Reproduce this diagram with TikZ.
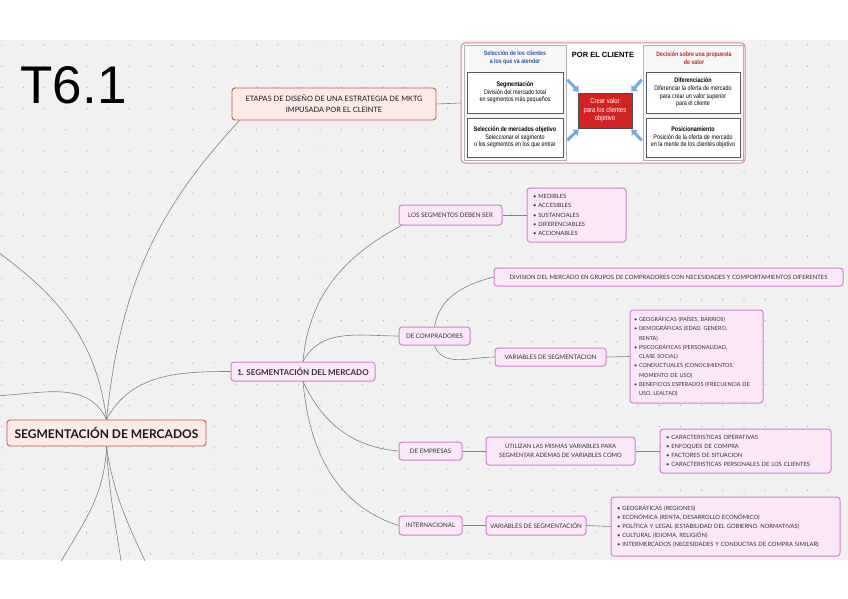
\documentclass[tikz,border=0pt]{standalone}
\usepackage{fontspec}
\setmainfont{Lato}
\newfontfamily\arialfont{Liberation Sans}
\newfontfamily\narrowfont[FakeStretch=0.82]{Liberation Sans}
\usetikzlibrary{arrows.meta}

\definecolor{canvas}{RGB}{241,241,241}
\definecolor{dotgray}{RGB}{178,178,178}
\definecolor{linkgray}{RGB}{130,130,130}
\definecolor{redline}{RGB}{205,85,75}
\definecolor{redfill}{RGB}{252,234,231}
\definecolor{pinkline}{RGB}{215,125,210}
\definecolor{pinkfill}{RGB}{250,232,248}
\definecolor{headblue}{RGB}{45,85,165}
\definecolor{headred}{RGB}{195,35,35}
\definecolor{valuered}{RGB}{210,35,35}
\definecolor{arrowblue}{RGB}{115,170,225}

\begin{document}
\begin{tikzpicture}[
      x=1pt, y=-1pt,
      redbox/.style={rectangle, rounded corners=3pt, draw=redline, line width=0.9pt,
                     fill=redfill, inner sep=2pt, align=center, text=black!90},
      pinkbox/.style={rectangle, rounded corners=3pt, draw=pinkline, line width=1pt,
                      fill=pinkfill, inner sep=2pt, align=center, text=black!80,
                      font=\fontsize{6.2}{8}\selectfont},
      listbox/.style={pinkbox, align=left, inner xsep=6pt,
                      font=\fontsize{5.8}{9.3}\selectfont},
      link/.style={draw=linkgray, line width=0.6pt},
      imgbox/.style={rectangle, draw=black!65, line width=0.7pt, fill=white,
                     inner sep=1pt, align=center, font=\narrowfont\fontsize{6.6}{7.6}\selectfont},
      colpanel/.style={rectangle, draw=black!30, line width=0.5pt, fill=black!3},
      bluearrow/.style={-{Triangle[length=5pt,width=8pt]}, line width=3pt, arrowblue}
    ]
    % canvas
    \useasboundingbox (0,0) rectangle (848,599);
    \fill[white] (0,0) rectangle (848,599);
    \fill[canvas] (0,40) rectangle (848,560);
    \foreach \gx in {0,...,39}
      \foreach \gy in {0,...,24}
        \fill[dotgray] (2+21.2*\gx,45+21.2*\gy) circle (0.7pt);

    % title
    \node[inner sep=0pt, font=\arialfont\fontsize{53}{53}\selectfont] (title) at (73.5,85.5) {T6.1};

    % main nodes
    \node[redbox, minimum width=199pt, minimum height=26pt,
          font=\fontsize{12}{14}\selectfont\bfseries] (main) at (106.5,433) {SEGMENTACIÓN DE MERCADOS};
    \node[redbox, minimum width=204pt, minimum height=32pt,
          font=\fontsize{7.4}{11}\selectfont] (etapas) at (334,104)
          {ETAPAS DE DISEÑO DE UNA ESTRATEGIA DE MKTG\\IMPUSADA POR EL CLEINTE};
    \node[pinkbox, minimum width=144pt, minimum height=19pt,
          font=\fontsize{8}{10}\selectfont\bfseries] (seg1) at (303,371.5) {1. SEGMENTACIÓN DEL MERCADO};

    % segmentos
    \node[pinkbox, minimum width=103pt, minimum height=20pt] (debenser) at (450.5,215) {LOS SEGMENTOS DEBEN SER};
    \node[listbox, text width=87pt, minimum height=54pt] (cualidades) at (576.5,215)
          {\textbullet\ MEDIBLES\\\textbullet\ ACCESIBLES\\\textbullet\ SUSTANCIALES\\
           \textbullet\ DIFERENCIABLES\\\textbullet\ ACCIONABLES};

    % compradores
    \node[pinkbox, minimum width=71pt, minimum height=18pt] (compr) at (434.5,336) {DE COMPRADORES};
    \node[pinkbox, minimum width=349pt, minimum height=18pt,
          font=\fontsize{5.9}{8}\selectfont] (division) at (668.5,277)
          {DIVISION DEL MERCADO EN GRUPOS DE COMPRADORES CON NECESIDADES Y COMPORTAMIENTOS DIFERENTES};
    \node[pinkbox, minimum width=111pt, minimum height=18pt] (varcompr) at (550.5,357) {VARIABLES DE SEGMENTACION};
    \node[listbox, text width=125pt, inner xsep=4pt, minimum height=93pt,
          font=\fontsize{5.5}{9.3}\selectfont] (listcompr) at (696.5,356.5)
          {\textbullet\ GEOGRÁFICAS (PAÍSES, BARRIOS)\\
           \textbullet\ DEMOGRÁFICAS (EDAD, GENERO,\\\phantom{\textbullet\ }RENTA)\\
           \textbullet\ PSICOGRÁFICAS (PERSONALIDAD,\\\phantom{\textbullet\ }CLASE SOCIAL)\\
           \textbullet\ CONDUCTUALES (CONOCIMIENTOS,\\\phantom{\textbullet\ }MOMENTO DE USO)\\
           \textbullet\ BENEFICIOS ESPERADOS (FRECUENCIA DE\\\phantom{\textbullet\ }USO, LEALTAD)};

    % empresas
    \node[pinkbox, minimum width=63pt, minimum height=18pt] (empresas) at (430.5,451) {DE EMPRESAS};
    \node[pinkbox, minimum width=149pt, minimum height=28pt,
          font=\fontsize{5.9}{9.5}\selectfont] (utilizan) at (560.5,451)
          {UTILIZAN LAS MISMAS VARIABLES PARA\\SEGMENTAR ADEMAS DE VARIABLES COMO};
    \node[listbox, text width=159pt, minimum height=44pt, font=\fontsize{5.8}{9}\selectfont] (listemp) at (745.5,451)
          {\textbullet\ CARACTERISTICAS OPERATIVAS\\\textbullet\ ENFOQUES DE COMPRA\\
           \textbullet\ FACTORES DE SITUACION\\\textbullet\ CARACTERISTICAS PERSONALES DE LOS CLIENTES};

    % internacional
    \node[pinkbox, minimum width=63pt, minimum height=19pt] (internac) at (430.5,525.5) {INTERNACIONAL};
    \node[pinkbox, minimum width=100pt, minimum height=19pt] (varint) at (536,525.5) {VARIABLES DE SEGMENTACIÓN};
    \node[listbox, text width=217pt, minimum height=59pt, font=\fontsize{5.8}{9}\selectfont] (listint) at (725.5,526.5)
          {\textbullet\ GEOGRÁFICAS (REGIONES)\\\textbullet\ ECONÓMICA (RENTA, DESARROLLO ECONÓMICO)\\
           \textbullet\ POLÍTICA Y LEGAL (ESTABILIDAD DEL GOBIERNO, NORMATIVAS)\\
           \textbullet\ CULTURAL (IDIOMA, RELIGIÓN)\\
           \textbullet\ INTERMERCADOS (NECESIDADES Y CONDUCTAS DE COMPRA SIMILAR)};

    % picture of the process
    \node[rectangle, rounded corners=4pt, draw=redline!70, line width=1pt, fill=white,
          minimum width=284pt, minimum height=120pt] (panel) at (603,103) {};
    \node[colpanel, minimum width=102pt, minimum height=115pt] (leftcol) at (515,102.5) {};
    \node[colpanel, minimum width=100pt, minimum height=115pt] (rightcol) at (693,102.5) {};
    \node[align=center, text=headblue, inner sep=0pt,
          font=\narrowfont\fontsize{6.4}{7.4}\selectfont\bfseries] (lefthead) at (515,58)
          {Selección de los clientes\\a los que va atender};
    \node[align=center, text=headred, inner sep=0pt,
          font=\narrowfont\fontsize{6.4}{7.4}\selectfont\bfseries] (righthead) at (694,58)
          {Decisión sobre una propuesta\\de valor};
    \node[inner sep=0pt, font=\arialfont\fontsize{7.5}{8}\selectfont\bfseries] (porcliente) at (603,55) {POR EL CLIENTE};
    \node[imgbox, minimum width=96pt, minimum height=41pt] (segm) at (515,92.5)
          {\textbf{Segmentación}\\División del mercado total\\en segmentos más pequeños};
    \node[imgbox, minimum width=96pt, minimum height=39pt] (selec) at (515,137.5)
          {\textbf{Selección de mercados objetivo}\\Seleccionar el segmento\\o los segmentos en los que entrar};
    \node[imgbox, minimum width=94pt, minimum height=41pt] (difer) at (693,92.5)
          {\textbf{Diferenciación}\\Diferenciar la oferta de mercado\\para crear un valor superior\\para el cliente};
    \node[imgbox, minimum width=94pt, minimum height=39pt] (posic) at (693,137.5)
          {\textbf{Posicionamiento}\\Posición de la oferta de mercado\\en la mente de los clientes objetivo};
    \node[imgbox, fill=valuered, text=white, draw=black!70, minimum width=54pt, minimum height=35pt,
          font=\narrowfont\fontsize{7.2}{8.6}\selectfont] (crear) at (605,110.5)
          {Crear valor\\para los clientes\\objetivo};

    \draw[bluearrow] ([xshift=4pt,yshift=-8pt]segm.north east) -- ([xshift=1pt,yshift=1pt]crear.north west);
    \draw[bluearrow] ([xshift=4pt,yshift=17pt]selec.south east) -- ([xshift=1pt,yshift=-1pt]crear.south west);
    \draw[bluearrow] ([xshift=-4pt,yshift=-8pt]difer.north west) -- ([xshift=-1pt,yshift=1pt]crear.north east);
    \draw[bluearrow] ([xshift=-4pt,yshift=17pt]posic.south west) -- ([xshift=-1pt,yshift=-1pt]crear.south east);

    % branches leaving the canvas
    \coordinate (offup) at (-12,245);
    \coordinate (offleft) at (-12,396);
    \coordinate (offdownA) at (42,600);
    \coordinate (offdownB) at (126,600);
    \coordinate (offdownC) at (162,600);
    \begin{scope}
      \clip (0,40) rectangle (848,560);
      \draw[link] (main.north) to[out=97,in=-35] (offup);
      \draw[link] (main.north) to[out=115,in=0] (offleft);
      \draw[link] (main.south) to[out=-92,in=68] (offdownA);
      \draw[link] (main.south) to[out=-87,in=96] (offdownB);
      \draw[link] (main.south) to[out=-82,in=112] (offdownC);
    \end{scope}

    % connectors
    \draw[link] (main.north) to[out=84,in=-133] ([xshift=8pt]etapas.south west);
    \draw[link] (main.north) to[out=62,in=180] (seg1.west);
    \draw[link] (etapas.east) -- (panel.west);
    \draw[link] (seg1.north) to[out=85,in=-152] ([xshift=3pt]debenser.south west);
    \draw[link] (seg1.north) to[out=62,in=180] (compr.west);
    \draw[link] (seg1.south) to[out=-65,in=175] (empresas.west);
    \draw[link] (seg1.south) to[out=-85,in=162] (internac.west);
    \draw[link] (debenser.east) -- (cualidades.west);
    \draw[link] (compr.north) to[out=80,in=195] (division.west);
    \draw[link] (compr.south) to[out=-70,in=180] (varcompr.west);
    \draw[link] (varcompr.east) -- (listcompr.west);
    \draw[link] (empresas.east) -- (utilizan.west);
    \draw[link] (utilizan.east) -- (listemp.west);
    \draw[link] (internac.east) -- (varint.west);
    \draw[link] (varint.east) -- (listint.west);
  \end{tikzpicture}
\end{document}
